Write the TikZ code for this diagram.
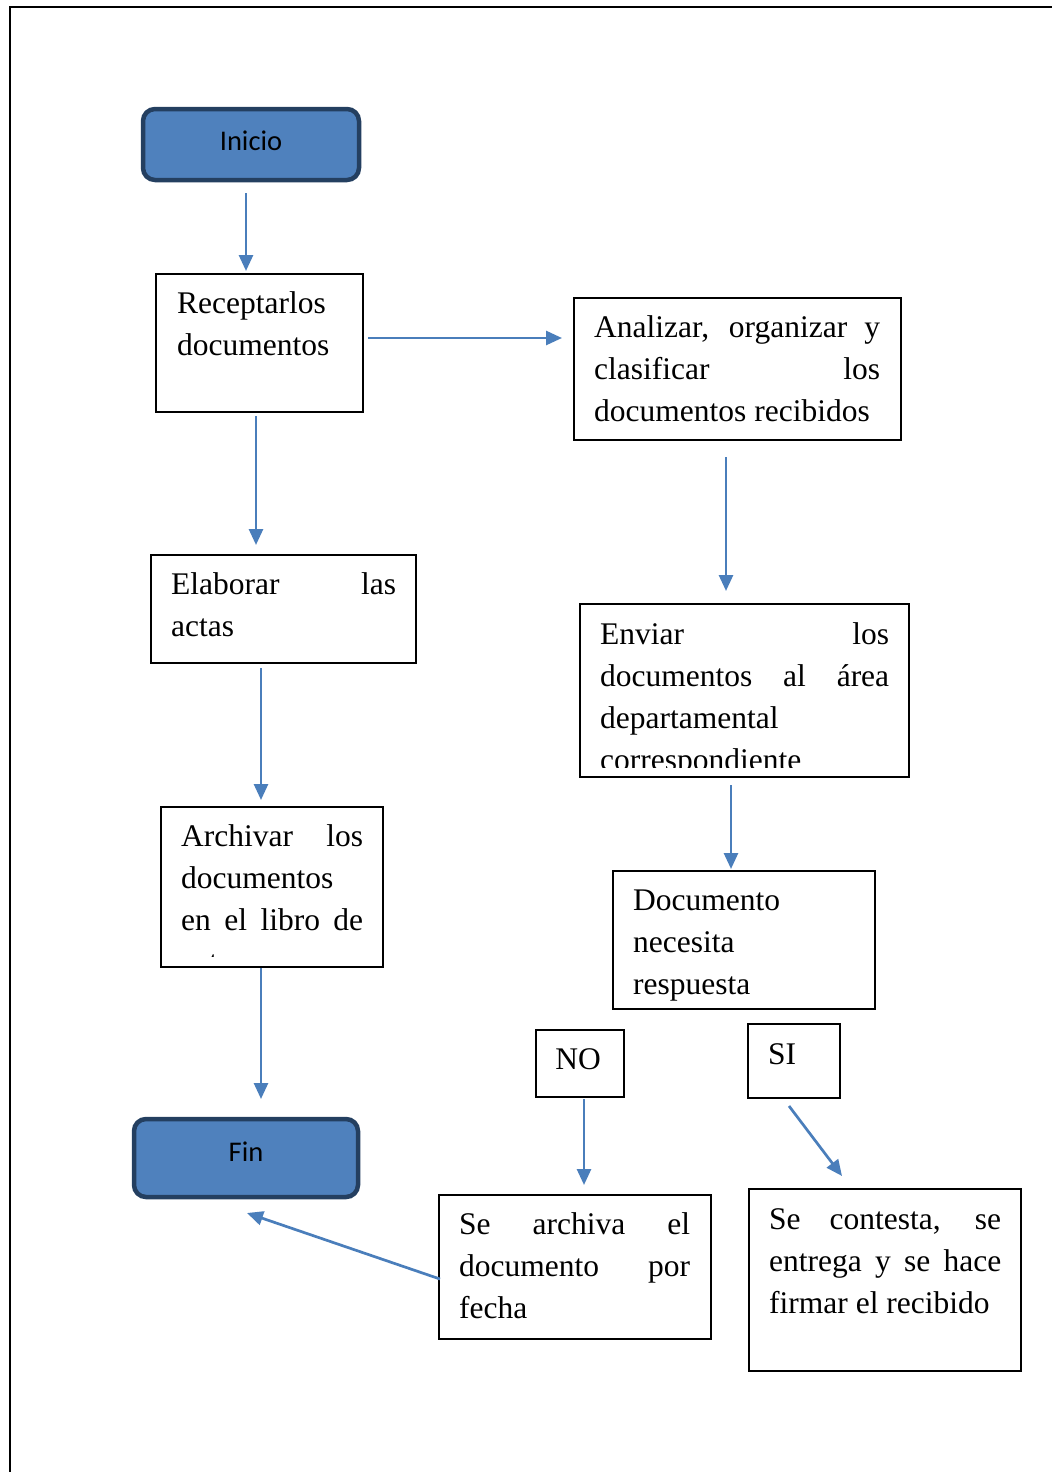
\documentclass[tikz,border=0pt]{standalone}
\usepackage{fontspec}
\setmainfont{Liberation Serif}
\newfontfamily\calibfont{Carlito}
\usetikzlibrary{arrows.meta,calc}
\definecolor{flowblue}{HTML}{4F81BD}
\definecolor{flowedge}{HTML}{243F60}
\definecolor{arrowblue}{HTML}{4A7EBB}
% one justified line of a box text
\newcommand\jline[1]{\makebox[\linewidth][s]{#1}\par}
\begin{document}
\begin{tikzpicture}[x=1pt,y=-1pt,
  box/.style={draw=black, line width=1.3pt, inner sep=0pt, outer sep=0pt, anchor=north west},
  term/.style={draw=flowedge, fill=flowblue, line width=4.5pt, rounded corners=12pt,
    inner sep=0pt, outer sep=0pt, anchor=north west, text height=18pt,
    font=\calibfont\fontsize{28.5}{34}\selectfont},
  body/.style={inner sep=0pt, anchor=base west, font=\fontsize{31.5}{42}\selectfont},
  flow/.style={draw=arrowblue, line width=2.7pt, -{Triangle[length=16pt,width=14pt]}}]
\useasboundingbox (0,0) rectangle (1052,1472);
% page frame
\draw[line width=2.5pt] (10,1472) -- (10,7) -- (1052,7);

% terminals
\node[term, text depth=7pt, minimum width=216pt, minimum height=71pt] (ini) at (143,109) {Inicio};
\node[term, text depth=12pt, minimum width=224pt, minimum height=78pt] (fin) at (134,1119) {Fin};

% process boxes
\node[box, minimum width=207pt, minimum height=138pt] (rec) at (156,274) {};
\node[box, minimum width=327pt, minimum height=142pt] (ana) at (574,298) {};
\node[box, minimum width=265pt, minimum height=108pt] (ela) at (151,555) {};
\node[box, minimum width=329pt, minimum height=173pt] (env) at (580,604) {};
\node[box, minimum width=222pt, minimum height=160pt] (arc) at (161,807) {};
\node[box, minimum width=262pt, minimum height=138pt] (doc) at (613,871) {};
\node[box, minimum width=88pt, minimum height=67pt] (no) at (536,1030) {};
\node[box, minimum width=92pt, minimum height=74pt] (si) at (748,1024) {};
\node[box, minimum width=272pt, minimum height=144pt] (sea) at (439,1195) {};
\node[box, minimum width=272pt, minimum height=182pt] (sec) at (749,1189) {};

% box texts
\node[body] (rec-t) at (177,313) {\parbox[t]{190pt}{Receptarlos\par documentos}};
\node[body] (ana-t) at (594,337) {\parbox[t]{286pt}{\jline{Analizar, organizar y}\jline{clasificar los}documentos recibidos}};
\node[body] (ela-t) at (171,594) {\parbox[t]{225pt}{\jline{Elaborar las}actas}};
\begin{scope}
  \clip (env.north west) rectangle ($(env.south east)+(0,-10)$);
  \node[body] (env-t) at (600,644) {\parbox[t]{289pt}{\jline{Enviar los}\jline{documentos al área}departamental\par correspondiente}};
\end{scope}
\begin{scope}
  \clip (arc.north west) rectangle ($(arc.south east)+(0,-10.5)$);
  \node[body] (arc-t) at (181,846) {\parbox[t]{182pt}{\jline{Archivar los}documentos\par\jline{en el libro de}actas}};
\end{scope}
\node[body] (doc-t) at (633,910) {\parbox[t]{220pt}{Documento\par necesita\par respuesta}};
\node[body, anchor=base] (no-t) at (578,1069) {NO};
\node[body] (si-t) at (768,1064) {SI};
\node[body] (sea-t) at (459,1234) {\parbox[t]{231pt}{\jline{Se archiva el}\jline{documento por}fecha}};
\node[body] (sec-t) at (769,1229) {\parbox[t]{232pt}{\jline{Se contesta, se}\jline{entrega y se hace}firmar el recibido}};

% connectors
\path ($(ini.south)+(-5,13)$) coordinate (c1)
      ($(rec.south)+(-3.5,4)$) coordinate (c2)
      ($(ana.south)+(-11.5,17)$) coordinate (c3)
      ($(ela.south)+(-22.5,5)$) coordinate (c4)
      ($(env.south)+(-13.5,8)$) coordinate (c5)
      ($(arc.south)+(-11,1)$) coordinate (c6)
      ($(no.south)+(4,2)$) coordinate (c7);
\draw[flow] (c1) -- ($(c1 |- rec.north)+(0,-3)$);
\draw[flow] ($(rec.east)+(5,-5)$) -- ($(ana.west)+(-12,-31)$);
\draw[flow] (c2) -- ($(c2 |- ela.north)+(0,-10)$);
\draw[flow] (c3) -- ($(c3 |- env.north)+(0,-13)$);
\draw[flow] (c4) -- ($(c4 |- arc.north)+(0,-7)$);
\draw[flow] (c5) -- ($(c5 |- doc.north)+(0,-2)$);
\draw[flow] (c6) -- ($(c6 |- fin.north)+(0,-20)$);
\draw[flow] (c7) -- ($(c7 |- sea.north)+(0,-10)$);
\draw[flow] ($(si.south)+(-5,8)$) -- ($(sec.north)+(-43,-13)$);
\draw[flow] ($(sea.west)+(1,12)$) -- ($(fin.south)+(1,16)$);
\end{tikzpicture}
\end{document}
